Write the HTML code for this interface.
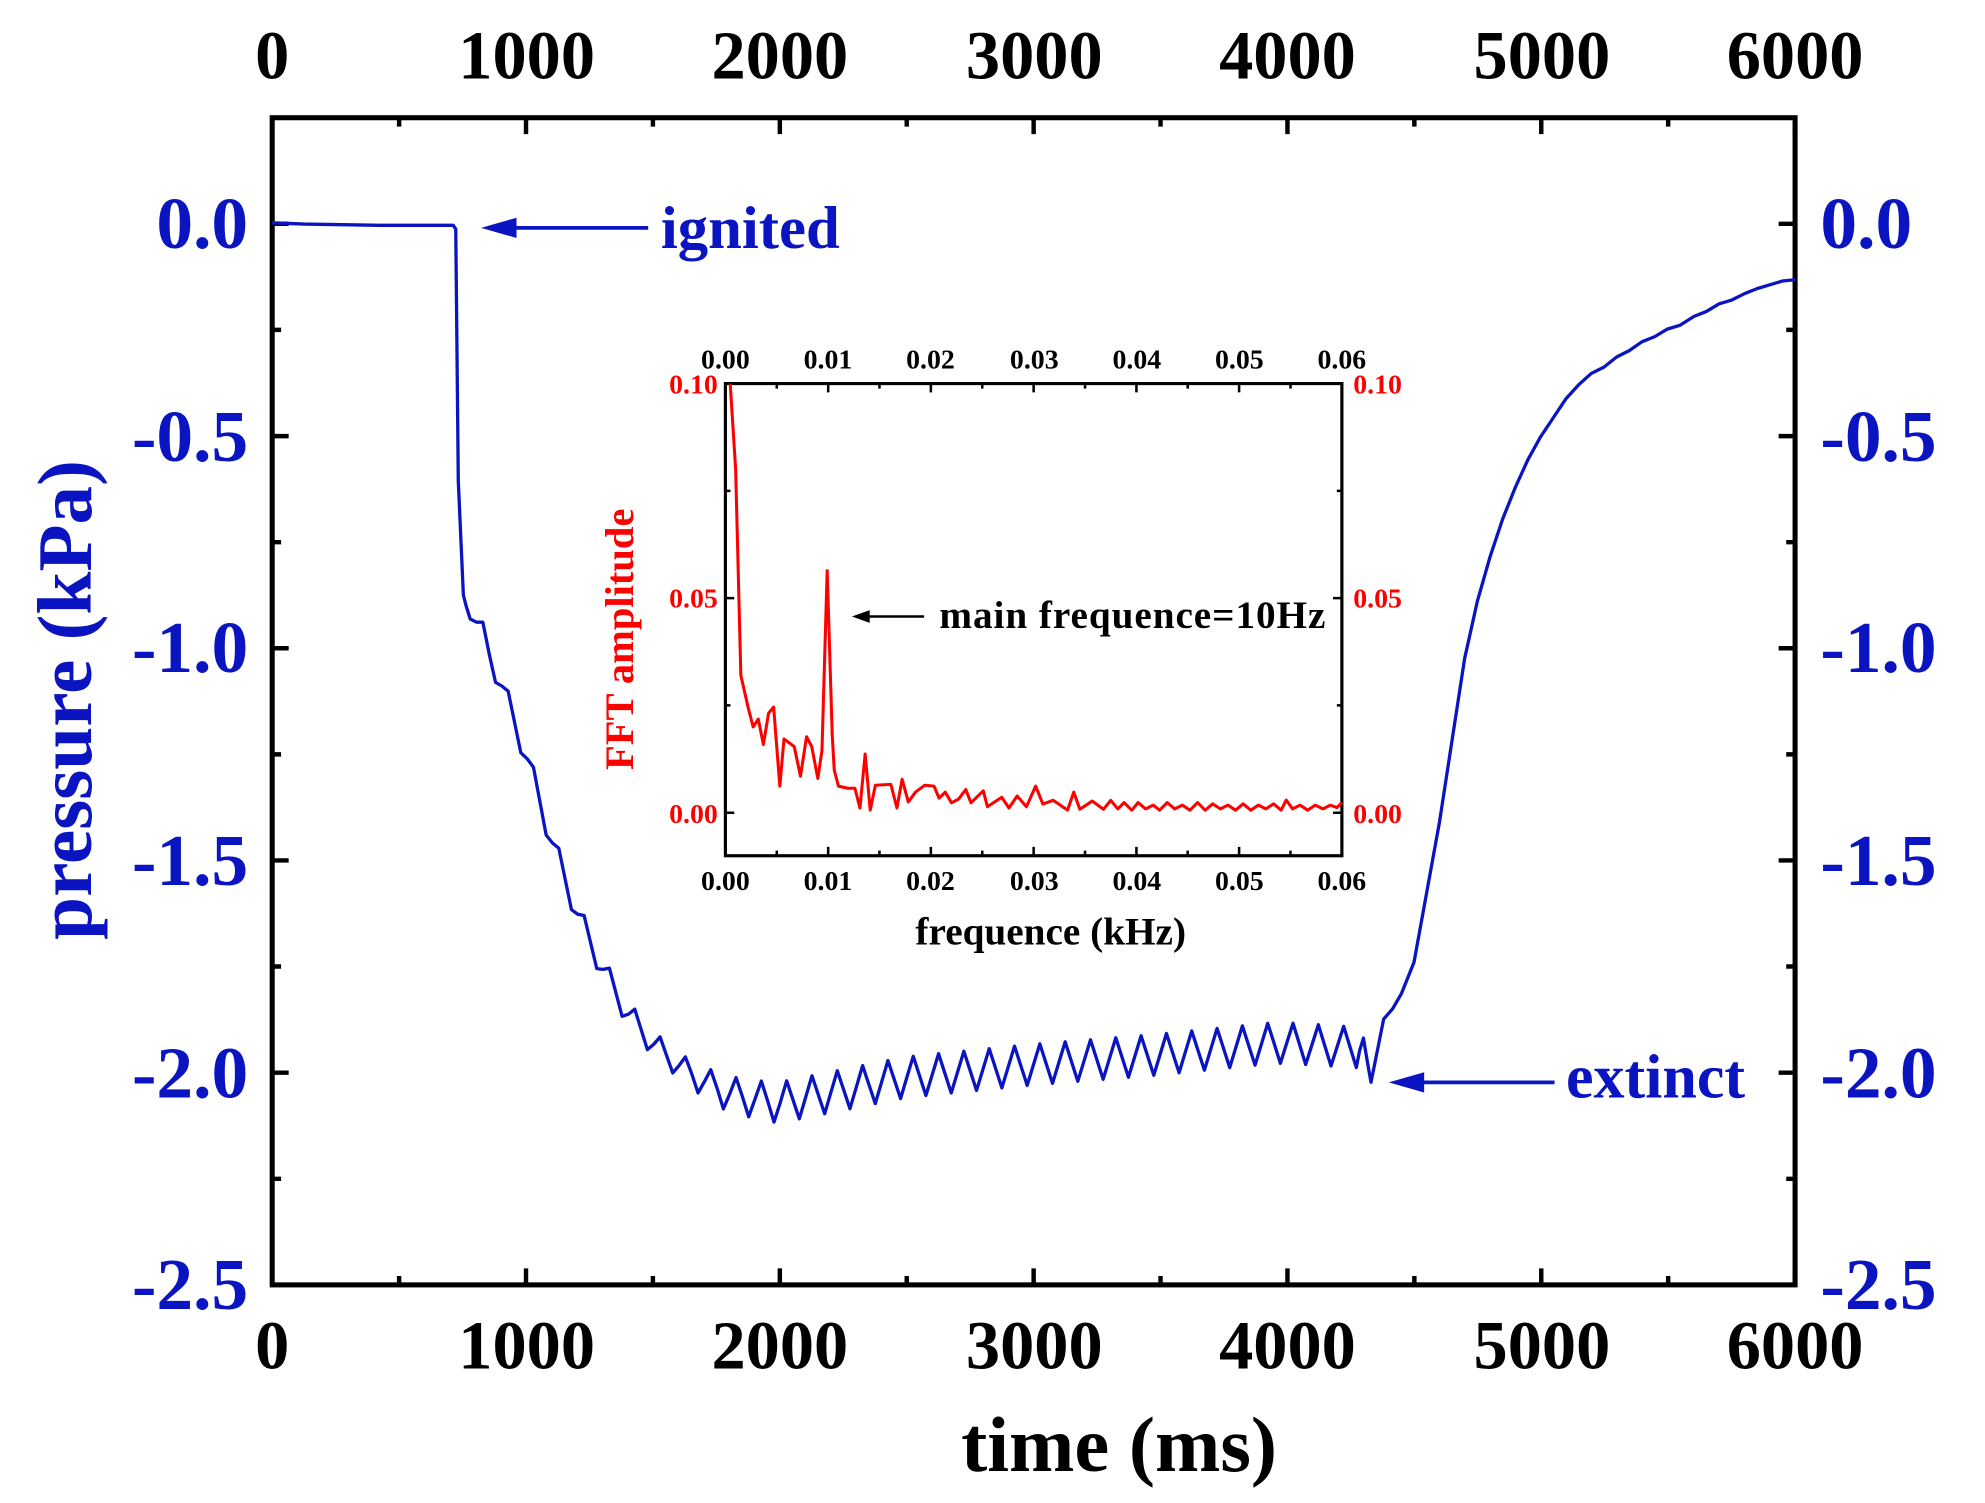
<!DOCTYPE html>
<html><head><meta charset="utf-8"><style>
html,body{margin:0;padding:0;background:#fff}
svg{display:block}
text{font-family:"Liberation Serif",serif;font-weight:bold}
</style></head><body>
<svg width="1985" height="1503" viewBox="0 0 1568 1187.3" xmlns="http://www.w3.org/2000/svg">
<rect width="1568" height="1188" fill="#fff"/>
<path stroke="#000" stroke-width="3.5" fill="none" d="
M215,93v13 M315.25,93v7 M415.5,93v13 M515.75,93v7 M616,93v13 M716.25,93v7 M816.5,93v13 M916.75,93v7 M1017,93v13 M1117.25,93v7 M1217.5,93v13 M1317.75,93v7 M1418,93v13
M215,1015v-13 M315.25,1015v-7 M415.5,1015v-13 M515.75,1015v-7 M616,1015v-13 M716.25,1015v-7 M816.5,1015v-13 M916.75,1015v-7 M1017,1015v-13 M1117.25,1015v-7 M1217.5,1015v-13 M1317.75,1015v-7 M1418,1015v-13
M215,176.8h13 M215,260.6h7 M215,344.5h13 M215,428.3h7 M215,512.1h13 M215,595.9h7 M215,679.7h13 M215,763.5h7 M215,847.4h13 M215,931.2h7
M1418,176.8h-13 M1418,260.6h-7 M1418,344.5h-13 M1418,428.3h-7 M1418,512.1h-13 M1418,595.9h-7 M1418,679.7h-13 M1418,763.5h-7 M1418,847.4h-13 M1418,931.2h-7"/>
<rect x="215" y="93" width="1203" height="922" fill="none" stroke="#000" stroke-width="4"/>
<path fill="none" stroke="#0a14c0" stroke-width="2.6" stroke-linejoin="round" d="M215,176 L240,177 L270,177.5 L300,178 L330,178 L358,178 L360,181 L362,380 L366,470 L368,478
L371.4,489 L376.4,491.5 L381.4,491.5 L386.4,516.5 L391.4,539 L396.4,541.9 L401.4,546 L406.4,570.4 L411.4,594.6 L416.4,599.4 L421.4,606.1 L426.4,632.9 L431.4,659.6 L436.4,665.9 L441.4,670.1 L446.4,694.4 L451.4,718.6 L456.4,722.2 L461.4,723.2 L466.4,744.2 L471.4,765.2 L476.4,765.8 L481.4,764.8 L486.4,783.8 L491.4,802.8 L496.4,801.2 L501.4,797.2 L506.4,813.2 L511.4,829.2 L516.4,824.9 L521.4,819.1 L526.4,833.4 L531.4,847.6 L536.4,841.7 L541.4,834.9 L546.4,848.2 L551.4,863.4 L556.4,854.5 L561.4,845 L566.4,859.5 L571.4,876 L576.4,864.2 L581.4,851.2 L586.4,866.2 L591.4,882.2 L596.4,868.2 L601.4,854 L606.4,869.7 L611.4,886.4 L616.4,870.8 L621.4,853.8 L626.4,868.8 L631.4,883.8 L636.4,866.8 L641.4,849.8 L646.4,864.8 L651.4,879.8 L656.4,862.8 L661.4,845.8 L666.4,860.8 L671.4,875.8 L676.4,858.8 L681.4,841.8 L686.4,856.8 L691.4,871.8 L696.4,854.8 L701.4,837.8 L706.4,852.8 L711.4,867.8 L716.4,850.9 L721.4,834.4 L726.4,849.9 L731.4,865.4 L736.4,848.9 L741.4,832.4 L746.4,847.9 L751.4,863.4 L756.4,846.9 L761.4,830.4 L766.4,845.9 L771.4,861.4 L776.4,844.9 L781.4,828.4 L786.4,843.9 L791.4,859.4 L796.4,842.9 L801.4,826.4 L806.4,841.9 L811.4,857.4 L816.4,841 L821.4,824.6 L826.4,840.2 L831.4,855.8 L836.4,839.4 L841.4,823 L846.4,838.6 L851.4,854.2 L856.4,837.8 L861.4,821.4 L866.4,837 L871.4,852.6 L876.4,836.2 L881.4,819.8 L886.4,835.4 L891.4,851 L896.4,834.6 L901.4,818.2 L906.4,833.8 L911.4,849.4 L916.4,833 L921.4,816.4 L926.4,831.9 L931.4,847.4 L936.4,830.9 L941.4,814.4 L946.4,829.9 L951.4,845.4 L956.4,828.9 L961.4,812.4 L966.4,827.9 L971.4,843.4 L976.4,826.9 L981.4,810.4 L986.4,825.9 L991.4,841.4 L996.4,824.9 L1001.4,808.4 L1006.4,824 L1011.4,840 L1016.4,824 L1021.4,808.3 L1026.4,824.6 L1031.4,840.9 L1036.4,825.2 L1041.4,809.5 L1046.4,825.8 L1051.4,842.1 L1056.4,826.4 L1061.4,810.7 L1066.4,827 L1071.4,843.3 L1074,830 L1077,820 L1080,838 L1083,855 L1087,835 L1093,805 L1100,797 L1107,785 L1117,760 L1127,705 L1137,650 L1147,585 L1157,520 L1167,475 L1177,440 L1187,410 L1197,385 L1207,363 L1217,345 L1227,330 L1237,315 L1247,304 L1257,295 L1267,290 L1277,282 L1287,277 L1297,270 L1307,266 L1317,260 L1327,257 L1338,250 L1348,246 L1358,240 L1368,237 L1378,232 L1388,228 L1398,225 L1408,222 L1418,221"/>
<g font-size="54" fill="#000" text-anchor="middle">
<text x="215" y="62">0</text><text x="416" y="62">1000</text><text x="616" y="62">2000</text><text x="817" y="62">3000</text><text x="1017" y="62">4000</text><text x="1218" y="62">5000</text><text x="1418" y="62">6000</text>
<text x="215" y="1081">0</text><text x="416" y="1081">1000</text><text x="616" y="1081">2000</text><text x="817" y="1081">3000</text><text x="1017" y="1081">4000</text><text x="1218" y="1081">5000</text><text x="1418" y="1081">6000</text>
<text x="884" y="1162" font-size="62">time (ms)</text>
</g>
<g font-size="58" fill="#0a14c0">
<g text-anchor="end">
<text x="196" y="196">0.0</text><text x="196" y="364">-0.5</text><text x="196" y="531">-1.0</text><text x="196" y="699">-1.5</text><text x="196" y="867">-2.0</text><text x="196" y="1034">-2.5</text>
</g>
<text x="1438" y="196">0.0</text><text x="1438" y="364">-0.5</text><text x="1438" y="531">-1.0</text><text x="1438" y="699">-1.5</text><text x="1438" y="867">-2.0</text><text x="1438" y="1034">-2.5</text>
<text transform="translate(72,553) rotate(-90)" text-anchor="middle" font-size="61">pressure (kPa)</text>
<text x="522" y="196" font-size="48">ignited</text>
<text x="1237" y="867" font-size="49">extinct</text>
</g>
<g stroke="#0a14c0" stroke-width="3" fill="#0a14c0">
<line x1="395" y1="180" x2="512" y2="180"/><polygon points="380,180 408,172 408,188" stroke="none"/>
<line x1="1112" y1="855" x2="1228" y2="855"/><polygon points="1097,855 1125,847 1125,863" stroke="none"/>
</g>
<!-- inset -->
<path stroke="#000" stroke-width="2" fill="none" d="
M573,303v7 M613.6,303v4 M654.2,303v7 M694.7,303v4 M735.3,303v7 M775.9,303v4 M816.5,303v7 M857.1,303v4 M897.7,303v7 M938.2,303v4 M978.8,303v7 M1019.4,303v4 M1060,303v7
M573,676v-7 M613.6,676v-4 M654.2,676v-7 M694.7,676v-4 M735.3,676v-7 M775.9,676v-4 M816.5,676v-7 M857.1,676v-4 M897.7,676v-7 M938.2,676v-4 M978.8,676v-7 M1019.4,676v-4 M1060,676v-7
M573,387.75h4 M573,472.5h7 M573,557.25h4 M573,642h7 M1060,387.75h-4 M1060,472.5h-7 M1060,557.25h-4 M1060,642h-7"/>
<rect x="573" y="303" width="487" height="373" fill="none" stroke="#000" stroke-width="2.5"/>
<path fill="none" stroke="#ff0000" stroke-width="2.4" stroke-linejoin="round" d="M576.8,303 L581.1,370.8 L585.2,533.5 L590.9,558.6 L594.9,574.2 L599,568.1 L603,588.1 L607.1,563.4 L611.1,558.6 L616,621 L619.3,583.7 L627.4,589.8 L632.3,613.2 L637.1,582 L641.2,589.8 L646,614.9 L649.3,592.8 L653.4,450.8 L657.4,581 L659,608.4 L662.3,621 L669.6,622.7 L675.3,622.7 L679.3,638.3 L683.4,595.6 L687.4,640 L691.5,620.3 L703.7,619.6 L708.5,638.3 L712.6,615.6 L717.5,633.5 L723.2,625.7 L730.5,620.3 L737.8,621 L741.8,630.5 L746.7,625.7 L751.6,634.2 L757.2,631.2 L762.9,623.7 L767,634.2 L776.7,624.7 L780,637.3 L791.3,629.8 L797,638.3 L803.5,628.8 L810.8,637.3 L818.1,621 L823.8,635.2 L831.9,632.2 L843.3,640 L848.2,625.7 L853,639.3 L862.8,632.8 L871.7,639.3 L877.4,632.2 L883,639 L888,634 L894,640 L899,634 L905,639 L911,636 L916,640 L922,634 L928,639 L934,636 L940,640 L946,634 L952,640 L958,635 L964,639 L970,636 L976,640 L982,635 L988,640 L994,636 L1000,639 L1006,635 L1012,640 L1016,632 L1021,639 L1027,636 L1033,640 L1039,636 L1045,639 L1051,636 L1056,638 L1060,634"/>
<g font-size="22" fill="#000" text-anchor="middle">
<text x="573" y="291">0.00</text><text x="654" y="291">0.01</text><text x="735" y="291">0.02</text><text x="817" y="291">0.03</text><text x="898" y="291">0.04</text><text x="979" y="291">0.05</text><text x="1060" y="291">0.06</text>
<text x="573" y="703">0.00</text><text x="654" y="703">0.01</text><text x="735" y="703">0.02</text><text x="817" y="703">0.03</text><text x="898" y="703">0.04</text><text x="979" y="703">0.05</text><text x="1060" y="703">0.06</text>
<text x="830" y="746" font-size="31">frequence (kHz)</text>
</g>
<g font-size="22" fill="#ff0000">
<g text-anchor="end"><text x="567" y="311">0.10</text><text x="567" y="480">0.05</text><text x="567" y="650">0.00</text></g>
<text x="1069" y="311">0.10</text><text x="1069" y="480">0.05</text><text x="1069" y="650">0.00</text>
<text transform="translate(500,505) rotate(-90)" text-anchor="middle" font-size="32">FFT amplitude</text>
</g>
<text x="742" y="496" font-size="31" fill="#000" textLength="305">main frequence=10Hz</text>
<line x1="685" y1="487" x2="730" y2="487" stroke="#000" stroke-width="2"/>
<polygon points="673,487 687,482 687,492" fill="#000"/>
</svg>
</body></html>
